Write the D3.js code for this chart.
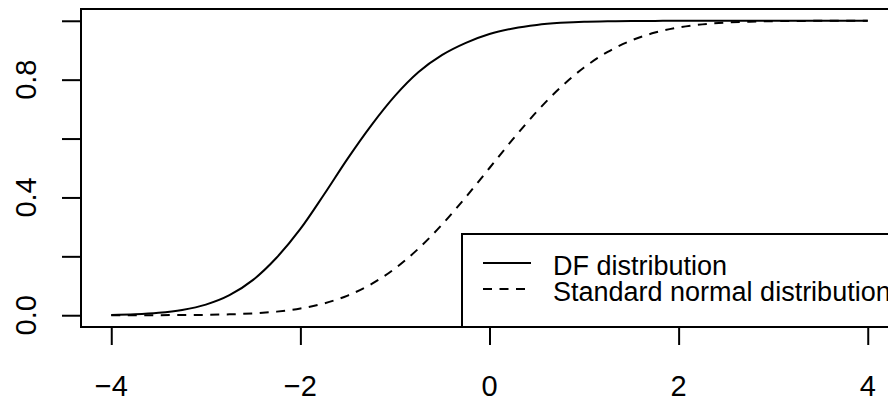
<!DOCTYPE html>
<html><head><meta charset="utf-8">
<script src="https://cdn.jsdelivr.net/npm/d3@7"></script>
<style>body{margin:0;background:#fff}svg{display:block}text{font-family:"Liberation Sans",Arial,Helvetica,sans-serif;fill:#000}</style>
</head><body><svg id="c" width="888" height="400"></svg>
<script>
const xValues = [-4,-3.75,-3.5,-3.25,-3,-2.75,-2.5,-2.25,-2,-1.75,-1.5,-1.25,-1,-0.75,-0.5,-0.25,0,0.25,0.5,0.75,1,1.25,1.5,1.75,2,2.25,2.5,2.75,3,3.25,3.5,3.75,4];
const dfValues = [0.001,0.003,0.008,0.018,0.036,0.068,0.120,0.196,0.293,0.410,0.532,0.645,0.745,0.826,0.884,0.925,0.955,0.974,0.986,0.993,0.997,0.998,0.999,0.9995,1,1,1,1,1,1,1,1,1];
const normalValues = [0.00003,0.0001,0.0002,0.0006,0.0013,0.003,0.0062,0.0122,0.0228,0.0401,0.0668,0.1056,0.1587,0.2266,0.3085,0.4013,0.5,0.5987,0.6915,0.7734,0.8413,0.8944,0.9332,0.9599,0.9772,0.9878,0.9938,0.997,0.9987,0.9994,0.9998,0.9999,0.99997];
const xTicks = [-4,-2,0,2,4];
const xTickLabels = ["\u22124","\u22122","0","2","4"];
const yTicks = [0,0.2,0.4,0.6,0.8,1.0];
const yTickLabels = ["0.0","","0.4","","0.8",""];
const legendLabels = ["DF distribution","Standard normal distribution"];

const svg = d3.select("#c");
const L=81, R=898, T=9, B=327;
const x = d3.scaleLinear().domain([-4.32,4.32]).range([L,R]);
const y = d3.scaleLinear().domain([-0.04,1.04]).range([B,T]);
const fsAxis = 29, fsLeg = 27;
const dash = "9,7.5";

const line = d3.line().x((d,i)=>x(xValues[i])).y(d=>y(d)).curve(d3.curveMonotoneX);
svg.append("path").attr("d", line(normalValues)).attr("fill","none").attr("stroke","#000").attr("stroke-width",2).attr("stroke-dasharray",dash);
svg.append("path").attr("d", line(dfValues)).attr("fill","none").attr("stroke","#000").attr("stroke-width",2);

// axes
const xAxis = d3.axisBottom(x).tickValues(xTicks).tickSize(18).tickFormat(()=>"");
const gx = svg.append("g").attr("transform",`translate(0,${B})`).call(xAxis);
gx.select(".domain").remove();
gx.selectAll(".tick line").attr("stroke","#000").attr("stroke-width",2);
svg.append("g").selectAll("text").data(xTicks).join("text")
  .attr("x",d=>x(d)).attr("y",396).attr("text-anchor","middle").attr("font-size",fsAxis)
  .text((d,i)=>xTickLabels[i]);

const yAxis = d3.axisLeft(y).tickValues(yTicks).tickSize(19).tickFormat(()=>"");
const gy = svg.append("g").attr("transform",`translate(${L},0)`).call(yAxis);
gy.select(".domain").remove();
gy.selectAll(".tick line").attr("stroke","#000").attr("stroke-width",2);
svg.append("g").selectAll("text").data(yTicks).join("text")
  .attr("transform",d=>`translate(36,${y(d)}) rotate(-90)`).attr("text-anchor","middle").attr("font-size",fsAxis)
  .text((d,i)=>yTickLabels[i]);

// box
svg.append("rect").attr("x",L).attr("y",T).attr("width",R-L).attr("height",B-T).attr("fill","none").attr("stroke","#000").attr("stroke-width",2);

// legend
const lg = svg.append("g");
lg.append("rect").attr("x",462).attr("y",234).attr("width",R-462).attr("height",B-234).attr("fill","#fff").attr("stroke","#000").attr("stroke-width",2);
const rows=[263,289];
legendLabels.forEach((lab,i)=>{
  lg.append("line").attr("x1",483).attr("x2",531).attr("y1",rows[i]).attr("y2",rows[i]).attr("stroke","#000").attr("stroke-width",2).attr("stroke-dasharray", i? dash: null);
  lg.append("text").attr("x",553).attr("y",rows[i]+12).attr("font-size",fsLeg).text(lab);
});
</script></body></html>
